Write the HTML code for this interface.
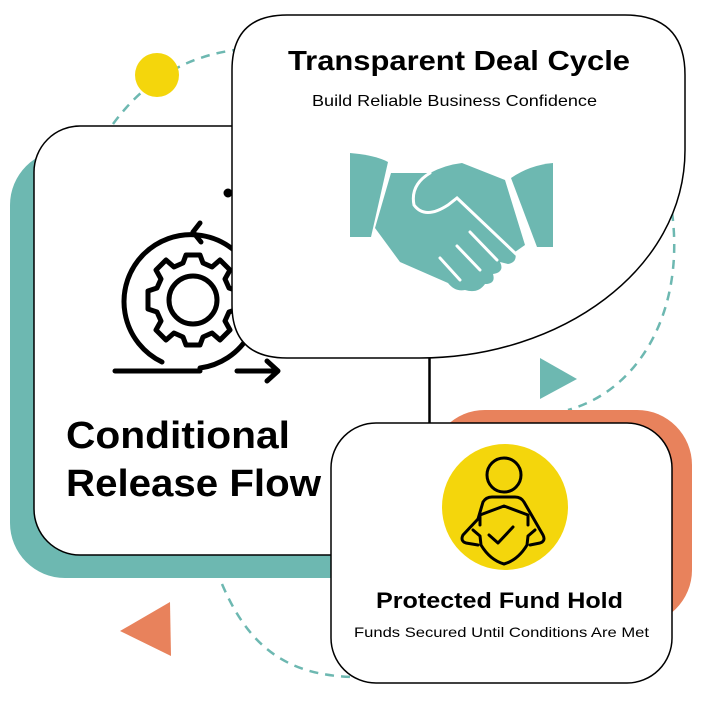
<!DOCTYPE html>
<html><head><meta charset="utf-8"><style>
html,body{margin:0;padding:0;background:#fff;width:701px;height:701px;overflow:hidden}
svg{display:block}
text{font-family:"Liberation Sans",sans-serif}
</style></head><body>
<svg width="701" height="701" viewBox="0 0 701 701" xmlns="http://www.w3.org/2000/svg">
<g fill="none" stroke="#6db8b1" stroke-width="2.5" stroke-dasharray="9 7">
<path d="M113,124 Q160,60 235,50"/>
<path d="M672,212 C685,310 640,390 568,410"/>
<path d="M222,584 C250,650 290,675 352,677"/>
</g>
<circle cx="157" cy="75" r="22" fill="#f4d60c"/>
<polygon points="540,358 577,379 540,399" fill="#6db8b1"/>
<polygon points="120,631 170,602 171,656" fill="#e8825c"/>
<rect x="10" y="150" width="400" height="428" rx="55" fill="#6db8b1"/>
<rect x="34" y="126" width="396" height="429" rx="46" fill="#fff" stroke="#000" stroke-width="1.5"/>
<g fill="none" stroke="#000" stroke-width="5" stroke-linecap="round" stroke-linejoin="round">
<path d="M162,362 A67,67 0 1 1 200,368"/>
<path d="M200,223 L193,232 L201,242"/>
<line x1="115" y1="371" x2="200" y2="371"/>
<line x1="237" y1="371" x2="277" y2="371"/>
<path d="M267,361 L278,371 L267,381"/>
<circle cx="193" cy="300" r="24"/>
<path d="M186,255 L200,255 L203,263 L212,267 L220,260 L230,270 L225,279 L229,288 L238,291 L238,309 L229,312 L225,321 L230,330 L220,340 L212,333 L203,337 L200,345 L186,345 L183,337 L174,333 L166,340 L156,330 L161,321 L157,312 L148,309 L148,291 L157,288 L161,279 L156,270 L166,260 L174,267 L183,263 Z"/>
<circle cx="228" cy="193" r="2" fill="#000"/>
</g>
<text x="66" y="448" font-size="38" font-weight="bold" fill="#000" textLength="224" lengthAdjust="spacingAndGlyphs">Conditional</text>
<text x="66" y="496" font-size="38" font-weight="bold" fill="#000" textLength="255" lengthAdjust="spacingAndGlyphs">Release Flow</text>
<path d="M232,70 Q232,15 287,15 L625,15 Q685,15 685,75 L685,150 C685,270 560,358 420,358 L287,358 Q232,358 232,305 Z" fill="#fff" stroke="#000" stroke-width="1.5"/>
<text x="288" y="70" font-size="28" font-weight="bold" fill="#000" textLength="342" lengthAdjust="spacingAndGlyphs">Transparent Deal Cycle</text>
<text x="312" y="106" font-size="16" fill="#000" textLength="285" lengthAdjust="spacingAndGlyphs">Build Reliable Business Confidence</text>
<g fill="#6db8b1">
<path d="M350,153 Q375,155 388,162 L371,237 L350,237 Z"/>
<path d="M511,178 Q530,165 553,163 L553,247 L537,247 Z"/>
<path d="M391,173 L430,173 Q445,165 462,163 L505,180 L525,245 L515,252 Q518,262 508,264 L500,262 Q505,272 493,274 Q496,284 485,284 Q478,294 465,290 Q455,292 448,283 L400,262 L375,228 Z"/>
</g>
<g fill="none" stroke="#fff" stroke-width="3" stroke-linecap="round">
<path d="M430,173 Q410,185 414,205 Q425,220 448,205 L457,198 L516,254"/>
<line x1="470" y1="232" x2="497" y2="260"/>
<line x1="457" y1="246" x2="480" y2="270"/>
<line x1="440" y1="258" x2="460" y2="280"/>
</g>
<line x1="429" y1="358" x2="429" y2="424" stroke="#000" stroke-width="1.5"/>
<rect x="430" y="410" width="262" height="215" rx="55" fill="#e8825c"/>
<rect x="331" y="423" width="341" height="260" rx="45" fill="#fff" stroke="#000" stroke-width="1.5"/>
<circle cx="505" cy="507" r="63" fill="#f4d60c"/>
<g fill="none" stroke="#000" stroke-width="3" stroke-linejoin="round" stroke-linecap="round">
<circle cx="504" cy="475" r="17"/>
<path d="M478,519 L483,502 Q486,497 492,497 L515,497 Q521,497 524,502 L543,535 Q546,541 540,543 L530,545"/>
<path d="M478,519 L463,535 Q460,541 466,543 L478,545"/>
<path d="M480,525 L480,515 L504,506 L528,515 L528,525"/>
<path d="M473,530 L480,536 L481,545 Q490,560 504,564 Q518,560 527,545 L528,536 L535,530"/>
<path d="M489,535 L498,543 L513,527"/>
</g>
<text x="376" y="608" font-size="22" font-weight="bold" fill="#000" textLength="247" lengthAdjust="spacingAndGlyphs">Protected Fund Hold</text>
<text x="354" y="637" font-size="14" fill="#000" textLength="295" lengthAdjust="spacingAndGlyphs">Funds Secured Until Conditions Are Met</text>
</svg>
</body></html>
